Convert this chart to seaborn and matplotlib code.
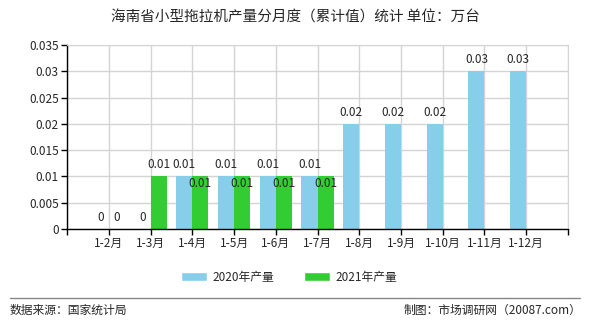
import seaborn as sns
import matplotlib.pyplot as plt
import pandas as pd
import numpy as np
from matplotlib.patches import Patch

months = ["1-2月", "1-3月", "1-4月", "1-5月", "1-6月", "1-7月", "1-8月", "1-9月", "1-10月", "1-11月", "1-12月"]
v2020 = [0, 0, 0.01, 0.01, 0.01, 0.01, 0.02, 0.02, 0.02, 0.03, 0.03]
v2021 = [0, 0.01, 0.01, 0.01, 0.01, 0.01, np.nan, np.nan, np.nan, np.nan, np.nan]
series = ["2020年产量", "2021年产量"]
yticks = [0, 0.005, 0.01, 0.015, 0.02, 0.025, 0.03, 0.035]
ytick_labels = ["0", "0.005", "0.01", "0.015", "0.02", "0.025", "0.03", "0.035"]

df = pd.DataFrame({
    "月份": months * 2,
    "产量": v2020 + v2021,
    "系列": [series[0]] * len(months) + [series[1]] * len(months),
})

sns.set_style("white")
plt.rcParams['font.family'] = ['Noto Sans CJK SC', 'DejaVu Sans']

fig = plt.figure(figsize=(5.9, 3.3), dpi=100)
ax = fig.add_axes([0.1136, 0.306, 0.8491, 0.5576])

colors = ["#87ceeb", "#32cd32"]
sns.barplot(data=df, x="月份", y="产量", hue="系列", order=months, hue_order=series,
            palette=colors, width=0.77, saturation=1, ax=ax, legend=False,
            errorbar=None, linewidth=0)

ax.set_xlim(-1, 11)
ax.set_ylim(0, 0.035)
ax.set_xticks(range(-1, 12))
ax.set_xticklabels([""] + months + [""], fontsize=8.5)
ax.set_yticks(yticks)
ax.set_yticklabels(ytick_labels, fontsize=8.5)
ax.set_xlabel("")
ax.set_ylabel("")
ax.grid(True, color="#d4d4d4", linewidth=1)
ax.set_axisbelow(True)
for s in ["top", "right"]:
    ax.spines[s].set_color("#d4d4d4")
for s in ["left", "bottom"]:
    ax.spines[s].set_color("black")
    ax.spines[s].set_linewidth(1)
ax.tick_params(axis="both", direction="out", length=4, width=1, color="black", pad=2)
ax.tick_params(axis="both", bottom=True, left=True)

# value labels
off = 0.385 / 2
for i, v in enumerate(v2020):
    ax.annotate(f"{v:g}", (i - off, v), xytext=(0, 8.5), textcoords="offset points",
                ha="center", va="center", fontsize=8.5)
for i, v in enumerate(v2021):
    if np.isnan(v):
        continue
    dy = -5 if 2 <= i <= 5 else 8.5
    ax.annotate(f"{v:g}", (i + off, v), xytext=(0, dy), textcoords="offset points",
                ha="center", va="center", fontsize=8.5)

fig.text(0.5, 0.948, "海南省小型拖拉机产量分月度（累计值）统计 单位：万台",
         ha="center", va="center", fontsize=10.5)

# legend
handles = [Patch(facecolor=c, label=l) for c, l in zip(colors, series)]
fig.legend(handles=handles, loc="center", bbox_to_anchor=(0.49, 0.16), ncol=2,
           frameon=False, fontsize=8.5, handlelength=2.2, handleheight=0.8,
           columnspacing=2.5, handletextpad=0.5)

# footer
fig.add_artist(plt.Line2D([0.017, 0.983], [0.098, 0.098], color="#888888", linewidth=1))
fig.text(0.017, 0.06, "数据来源：国家统计局", ha="left", va="center", fontsize=8.5)
fig.text(0.985, 0.06, "制图：市场调研网（20087.com）", ha="right", va="center", fontsize=8.5)

fig.savefig("out.png", dpi=100)
